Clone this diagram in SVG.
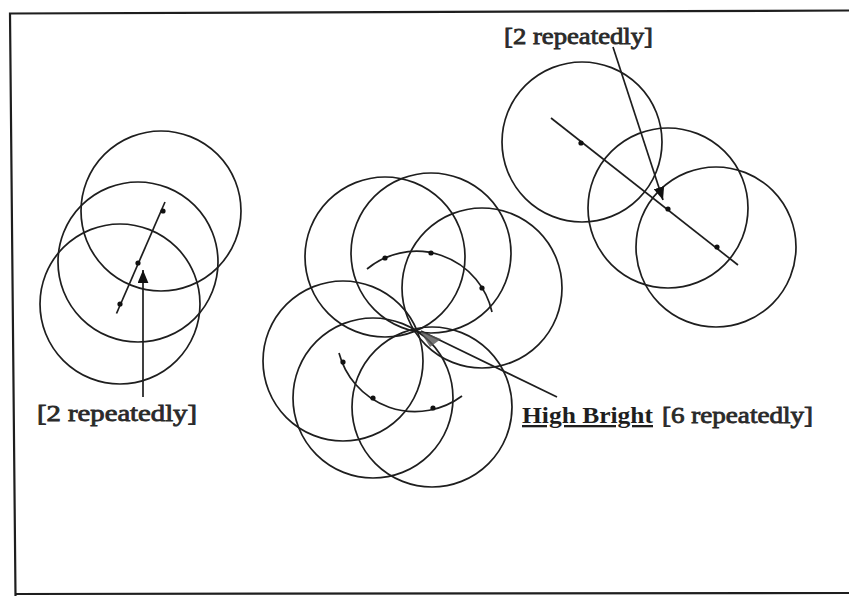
<svg xmlns="http://www.w3.org/2000/svg" width="849" height="596" viewBox="0 0 849 596">
<defs>
<style>
.c{fill:none;stroke:#1e1e1e;stroke-width:1.7}
.ln{fill:none;stroke:#1e1e1e;stroke-width:1.7}
.d{fill:#111}
.t{font-family:"Liberation Serif","Times New Roman",serif;font-size:23px;fill:#2a2a2a;stroke:#2a2a2a;stroke-width:0.8}
.tb{font-family:"Liberation Serif","Times New Roman",serif;font-size:23px;font-weight:bold;fill:#1e1e1e;text-decoration:underline}
</style>
<marker id="ah" viewBox="0 0 12 10" refX="12" refY="5" markerWidth="13" markerHeight="11" markerUnits="userSpaceOnUse" orient="auto">
<path d="M0,0 L12,5 L0,10 z" fill="#111"/>
</marker>
</defs>
<rect width="849" height="596" fill="#fff"/>
<path d="M849,10.5 L10,13.5 L15.5,596 M15.5,594 L849,593" fill="none" stroke="#1e1e1e" stroke-width="2.2"/>

<g id="cluster-left">
<circle class="c" cx="161" cy="211" r="80"/>
<circle class="c" cx="138" cy="262" r="80"/>
<circle class="c" cx="120" cy="304" r="80"/>
<path class="ln" d="M116.5,313.5 L165,202"/>
<circle class="d" cx="163" cy="211" r="2.6"/>
<circle class="d" cx="138" cy="263" r="2.6"/>
<circle class="d" cx="120" cy="304" r="2.6"/>
</g>

<g id="cluster-center">
<circle class="c" cx="385" cy="257" r="80"/>
<circle class="c" cx="431" cy="253" r="80"/>
<circle class="c" cx="482" cy="288" r="80"/>
<circle class="c" cx="343" cy="361" r="80"/>
<circle class="c" cx="373" cy="398" r="80"/>
<circle class="c" cx="432" cy="407" r="80"/>
<path class="ln" d="M367,269 A77.5,77.5 0 0 1 492,312"/>
<path class="ln" d="M339,353 A78.6,78.6 0 0 0 462,396"/>
<circle class="d" cx="385" cy="258" r="2.6"/>
<circle class="d" cx="431" cy="253" r="2.6"/>
<circle class="d" cx="482" cy="288" r="2.6"/>
<circle class="d" cx="343" cy="362" r="2.6"/>
<circle class="d" cx="373" cy="398" r="2.6"/>
<circle class="d" cx="433" cy="408" r="2.6"/>
</g>

<g id="cluster-right">
<circle class="c" cx="582" cy="142" r="80"/>
<circle class="c" cx="668" cy="208" r="80"/>
<circle class="c" cx="716" cy="247" r="80"/>
<path class="ln" d="M551,118 L738,265"/>
<circle class="d" cx="581" cy="143" r="2.6"/>
<circle class="d" cx="668" cy="209" r="2.6"/>
<circle class="d" cx="717" cy="247" r="2.6"/>
</g>

<g id="connectors">
<path class="ln" d="M143,397 L143,270" marker-end="url(#ah)"/>
<path class="ln" d="M613,47 L663,200" marker-end="url(#ah)"/>
<path class="ln" d="M557,397 L421,331"/>
<path d="M420,331 L441,339 L430,347 z" fill="#555" opacity="0.8"/>
</g>

<g id="labels">
<text class="t" x="37" y="421" textLength="160" lengthAdjust="spacingAndGlyphs">[2 repeatedly]</text>
<text class="t" x="504" y="43.5" textLength="149" lengthAdjust="spacingAndGlyphs">[2 repeatedly]</text>
<text class="tb" x="522" y="423" textLength="131" lengthAdjust="spacingAndGlyphs">High Bright</text>
<text class="t" x="662" y="423" textLength="151" lengthAdjust="spacingAndGlyphs">[6 repeatedly]</text>
</g>
</svg>
